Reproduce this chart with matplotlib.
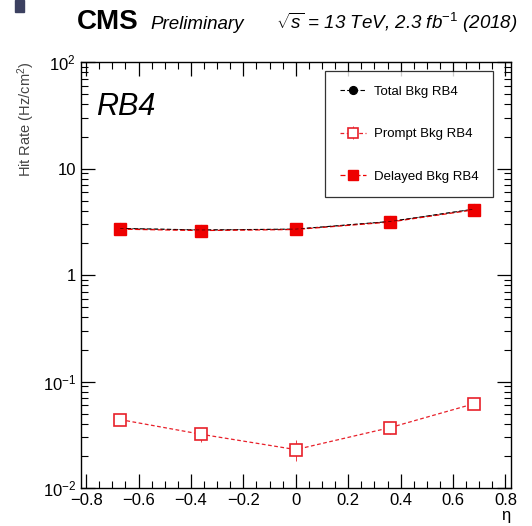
import matplotlib
matplotlib.use("Agg")
import matplotlib.pyplot as plt
from matplotlib.ticker import LogLocator, MultipleLocator, FixedLocator, FixedFormatter, NullFormatter

plt.rcParams["font.family"] = ["Liberation Sans", "DejaVu Sans"]
plt.rcParams["mathtext.fontset"] = "custom"
plt.rcParams["mathtext.rm"] = "Liberation Sans"
plt.rcParams["mathtext.it"] = "Liberation Sans:italic"

# valores
eta = [-0.67, -0.36, 0.0, 0.36, 0.68]
prompt = [0.044, 0.032, 0.023, 0.037, 0.062]
prompt_err = [0.005, 0.005, 0.005, 0.005, 0.004]
delayed = [2.70, 2.62, 2.68, 3.15, 4.10]
total = [p + d for p, d in zip(prompt, delayed)]

fig = plt.figure(figsize=(5.32, 5.26), dpi=100)
ax = fig.add_axes([0.152, 0.072, 0.808, 0.810])

h_tot, = ax.plot(eta, total, color="black", ls=(0, (4, 2)), lw=0.8, marker="o",
                 ms=7, label="Total Bkg RB4")
h_pr = ax.errorbar(eta, prompt, yerr=prompt_err, color="#e8202a", ls=(0, (3, 2)), lw=0.9,
                   marker="s", ms=9, mfc="white", mec="#e8202a", mew=1.2,
                   elinewidth=0.6, capsize=0, label="Prompt Bkg RB4")
h_del, = ax.plot(eta, delayed, color="#ee0000", ls=(0, (4, 2)), lw=0.9, marker="s",
                 ms=9, label="Delayed Bkg RB4")
# linha preta por cima, como no original
ax.plot(eta, total, color="black", ls=(0, (4, 3)), lw=0.6, alpha=0.6)

ax.set_yscale("log")
ax.set_xlim(-0.82, 0.82)
ax.set_ylim(0.01, 100)

ax.xaxis.set_major_locator(MultipleLocator(0.2))
ax.xaxis.set_minor_locator(MultipleLocator(0.05))
ax.yaxis.set_major_locator(FixedLocator([0.01, 0.1, 1, 10, 100]))
ax.yaxis.set_major_formatter(FixedFormatter([r"$10^{-2}$", r"$10^{-1}$", "1", "10", r"$10^{2}$"]))
ax.yaxis.set_minor_locator(LogLocator(base=10, subs=range(2, 10), numticks=20))
ax.yaxis.set_minor_formatter(NullFormatter())
ax.tick_params(which="both", direction="in", top=True, right=True, labelsize=12)
ax.tick_params(which="major", length=10, width=0.9)
ax.tick_params(which="minor", length=5, width=0.8)
ax.set_xticklabels([f"{v:.1f}".replace("-", "\u2212") if abs(v) > 1e-9 else "0"
                    for v in ax.get_xticks()])
for s in ax.spines.values():
    s.set_linewidth(1.0)

ax.set_xlabel("\u03b7", fontsize=12, loc="right", labelpad=0)
ax.set_ylabel(r"Hit Rate (Hz/cm$^{2}$)", fontsize=10.5, loc="top", labelpad=4,
              color="#444444")

ax.text(0.035, 0.93, "RB4", transform=ax.transAxes, fontsize=22, style="italic",
        va="top", ha="left")

leg = ax.legend(handles=[h_tot, h_pr, h_del], loc="upper right",
                bbox_to_anchor=(0.975, 0.995), fontsize=9.5,
                frameon=True, fancybox=False, edgecolor="black", borderpad=1.1,
                labelspacing=2.3, handlelength=2.0, handletextpad=0.6, markerscale=0.8)
leg.get_frame().set_linewidth(0.9)

fig.text(0.145, 0.945, "CMS", fontsize=20, weight="bold", va="baseline")
fig.text(0.283, 0.945, "Preliminary", fontsize=13.5, style="italic", va="baseline")
fig.text(0.972, 0.945, r"$\sqrt{s}$ = 13 TeV, 2.3 fb$^{-1}$ (2018)", fontsize=13.5,
         style="italic", ha="right", va="baseline")

# quadradinho escuro do canto
fig.patches.append(plt.Rectangle((0.028, 0.977), 0.018, 0.023, transform=fig.transFigure,
                                 color="#3c4060", zorder=5))

fig.savefig("out.png", dpi=100)
